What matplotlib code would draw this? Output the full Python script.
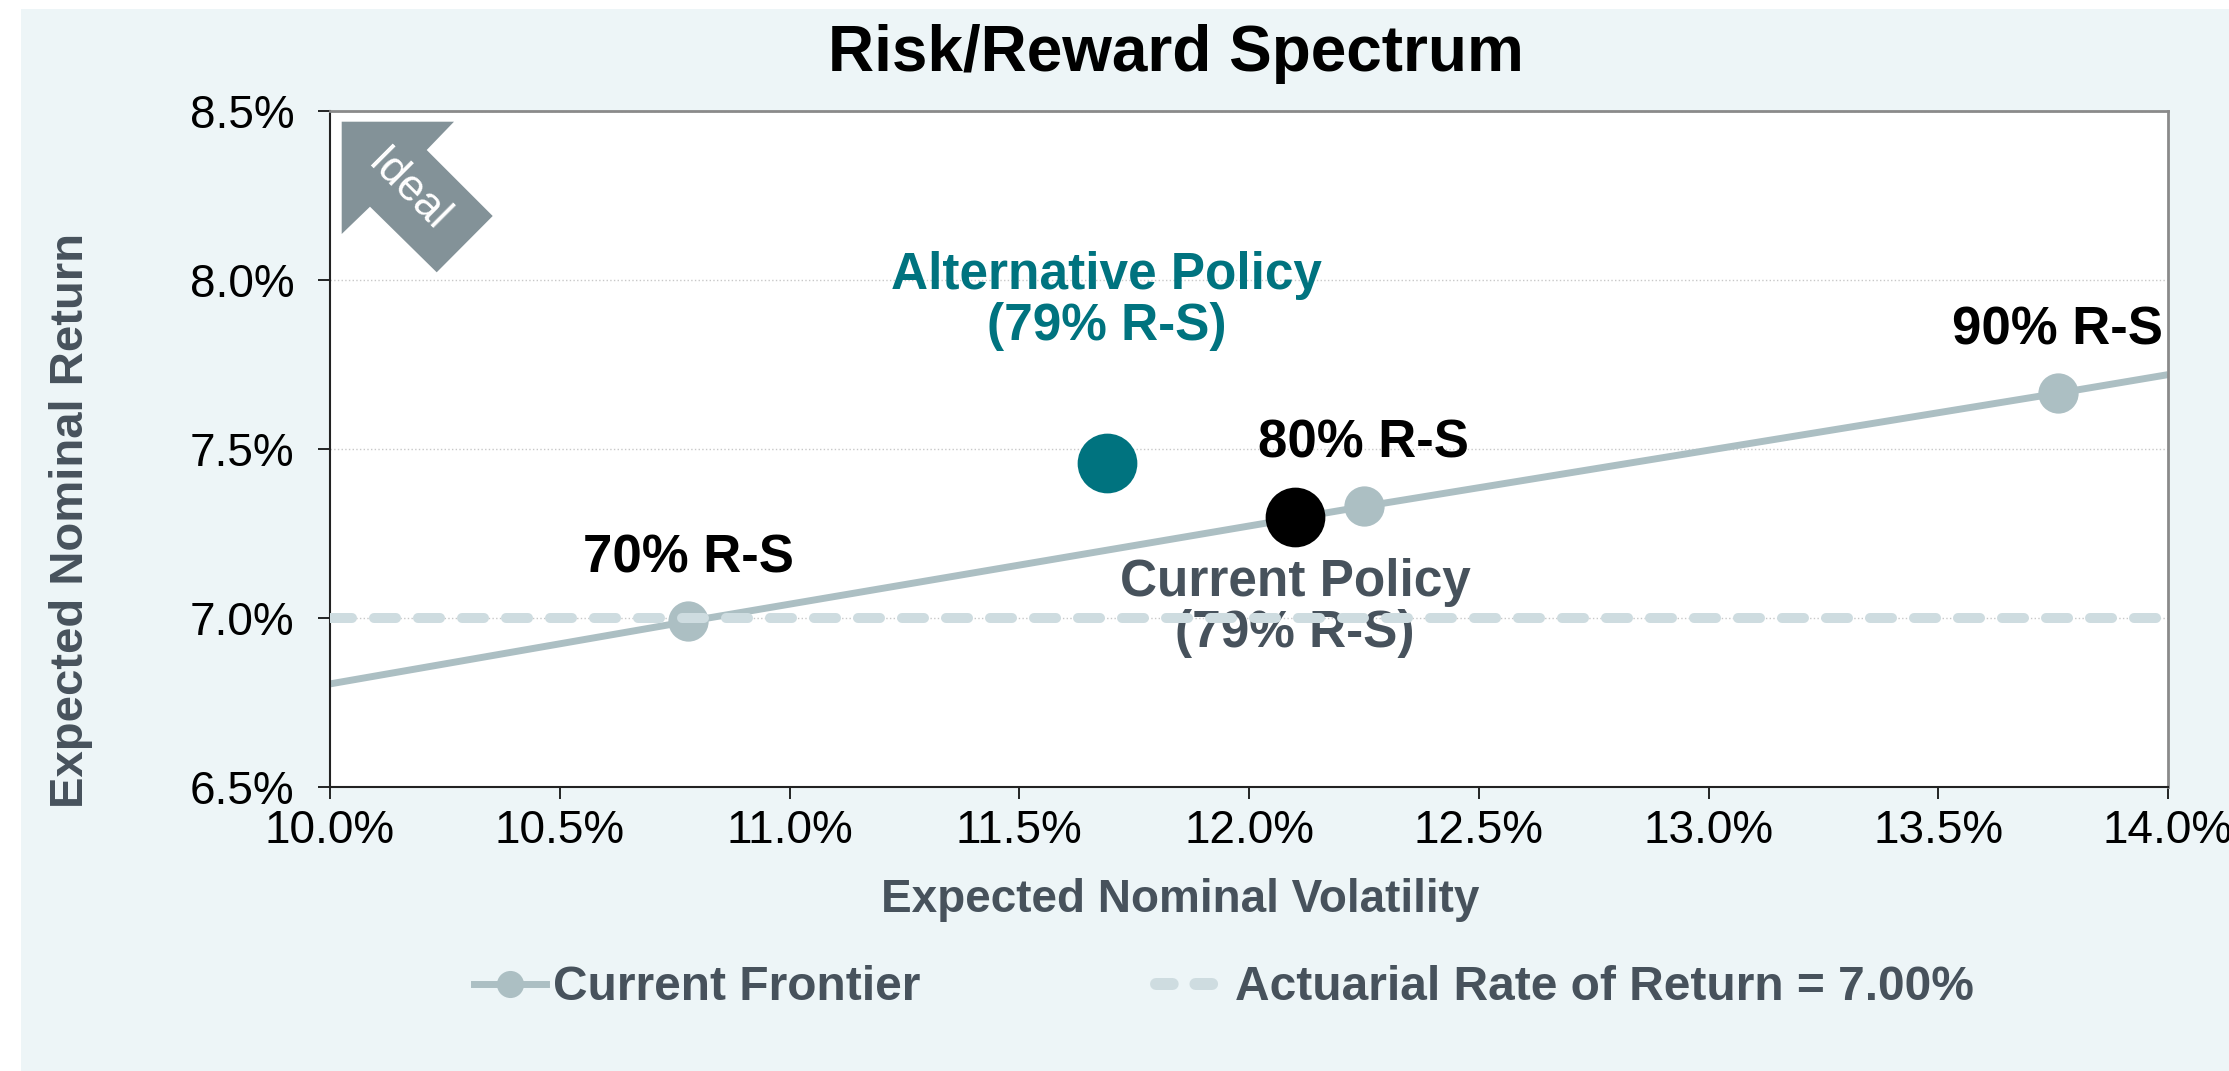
import matplotlib
matplotlib.use("Agg")
import matplotlib.pyplot as plt
from matplotlib.lines import Line2D
from matplotlib.patches import Polygon, Rectangle
from matplotlib.ticker import FuncFormatter
from matplotlib.transforms import Affine2D

plt.rcParams['font.family'] = ['Liberation Sans', 'DejaVu Sans']

# data (percent)
frontier_labels = ['70% R-S', '80% R-S', '90% R-S']
frontier_vol = [10.78, 12.25, 13.76]
frontier_ret = [6.99, 7.33, 7.665]
# frontier line as drawn, running to the axis edges
line_vol = [10.0, 10.78, 12.25, 13.76, 14.0]
line_ret = [6.805, 6.99, 7.33, 7.665, 7.72]

current_vol, current_ret = 12.10, 7.30
alt_vol, alt_ret = 11.69, 7.46
actuarial_rate = 7.00

x_ticks = [10.0, 10.5, 11.0, 11.5, 12.0, 12.5, 13.0, 13.5, 14.0]
y_ticks = [6.5, 7.0, 7.5, 8.0, 8.5]

# colours
bg = '#EDF5F7'
frontier_col = '#ACBFC3'
dash_col = '#CEDCE0'
teal = '#00737F'
slate = '#47525C'
arrow_col = '#839298'

W, H = 2229, 1071
fig = plt.figure(figsize=(W / 100, H / 100), dpi=100)
fig.patch.set_facecolor('white')
fig.patches.append(Rectangle((21 / W, 0), 1, 1 - 9 / H, transform=fig.transFigure,
                             facecolor=bg, edgecolor='none', zorder=-10))

ax = fig.add_axes([330 / W, 1 - 787 / H, 1838 / W, 676 / H])
ax.set_facecolor('white')

# frontier line + points
ax.plot(line_vol, line_ret, color=frontier_col, lw=5, zorder=2, solid_capstyle='butt')
ax.plot(frontier_vol, frontier_ret, 'o', color=frontier_col, ms=29, mew=0, zorder=3)
# actuarial rate
ax.axhline(actuarial_rate, color=dash_col, lw=7.2, dashes=(2.2, 2.2),
           dash_capstyle='round', zorder=4)
# policies
ax.plot([current_vol], [current_ret], 'o', color='black', ms=43, mew=0, zorder=5)
ax.plot([alt_vol], [alt_ret], 'o', color=teal, ms=43, mew=0, zorder=5)

# labels
for lab, x, y in zip(frontier_labels, frontier_vol, frontier_ret):
    ax.annotate(lab, (x, y), xytext=(0, 45), textcoords='offset points',
                ha='center', va='center', fontsize=38, fontweight='bold', color='black')
ax.annotate('Alternative Policy\n(79% R-S)', (alt_vol, alt_ret), xytext=(0, 116),
            textcoords='offset points', ha='center', va='center', fontsize=37,
            fontweight='bold', color=teal, linespacing=1.05)
ax.annotate('Current Policy\n(79% R-S)', (current_vol, current_ret), xytext=(0, -66),
            textcoords='offset points', ha='center', va='center', fontsize=37,
            fontweight='bold', color=slate, linespacing=1.05)

ax.set_xlim(10.0, 14.0)
ax.set_ylim(6.5, 8.5)
ax.set_xticks(x_ticks)
ax.set_yticks(y_ticks)
pct = FuncFormatter(lambda v, p: '{:.1f}%'.format(v))
ax.xaxis.set_major_formatter(pct)
ax.yaxis.set_major_formatter(pct)
ax.tick_params(axis='both', direction='out', length=8.6, width=1.2, labelsize=33,
               colors='black')
ax.tick_params(axis='y', pad=17)
ax.tick_params(axis='x', pad=7)
ax.yaxis.grid(True, color='#C8C8C8', lw=1, ls=':')
ax.set_axisbelow(True)

for s in ['left', 'bottom']:
    ax.spines[s].set_color('#222222')
    ax.spines[s].set_linewidth(1.5)
for s in ['top', 'right']:
    ax.spines[s].set_color('#8A8A8A')
    ax.spines[s].set_linewidth(2)

# titles
fig.text(1176 / W, 1 - 54 / H, 'Risk/Reward Spectrum', ha='center', va='center',
         fontsize=46, fontweight='bold', color='black')
fig.text(1180 / W, 1 - 900 / H, 'Expected Nominal Volatility', ha='center', va='center',
         fontsize=33, fontweight='bold', color=slate)
fig.text(71 / W, 1 - 521 / H, 'Expected Nominal Return', ha='center', va='center',
         rotation=90, fontsize=34, fontweight='bold', color=slate)

# "Ideal" arrow (pixel coords from top-left)
arrow_px = [(341.7, 121.7), (454, 121.7), (426.7, 150), (492.7, 216),
            (436.7, 272.3), (370, 206.7), (341.7, 234)]
px = Affine2D().scale(1 / W, -1 / H).translate(0, 1) + fig.transFigure
fig.patches.append(Polygon(arrow_px, closed=True, facecolor=arrow_col,
                           edgecolor='none', transform=px, zorder=5))
fig.text(408 / W, 1 - 191 / H, 'Ideal', rotation=-45, ha='center', va='center',
         rotation_mode='anchor', fontsize=32, color='white', zorder=6)

# legend
handles = [
    Line2D([], [], color=frontier_col, lw=5, marker='o', ms=19.5, mew=0),
    Line2D([], [], color=dash_col, lw=8.6, dashes=(1.4, 1.9), dash_capstyle='round'),
]
fig.legend(handles, ['Current Frontier', 'Actuarial Rate of Return = 7.00%'],
           loc='center', bbox_to_anchor=(1224 / W, 1 - 988 / H), ncol=2,
           frameon=False, handlelength=1.5, handletextpad=0.15, columnspacing=4.9,
           prop={'size': 34.5, 'weight': 'bold'}, labelcolor=slate)

fig.savefig('out.png', dpi=100, facecolor=fig.get_facecolor())
